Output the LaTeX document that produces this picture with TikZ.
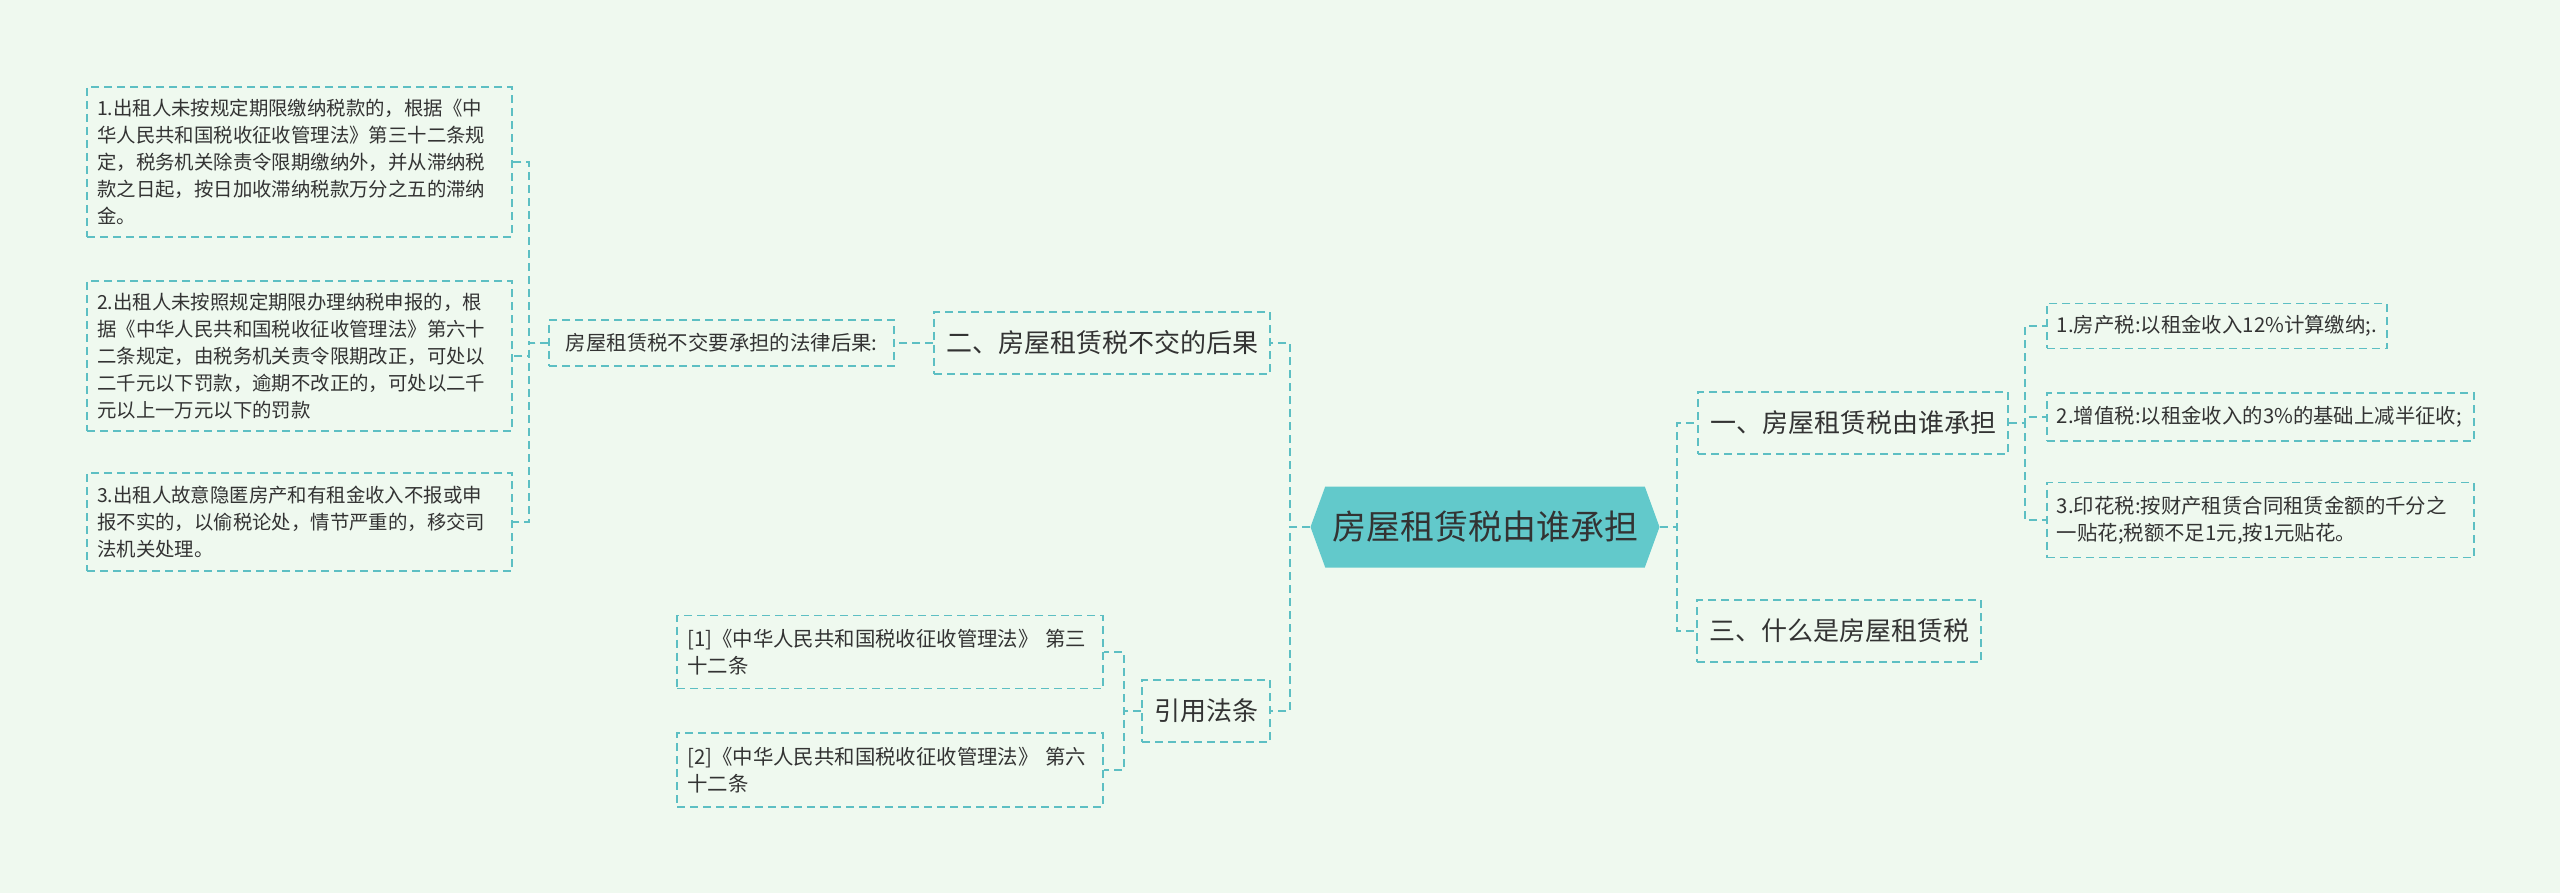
\documentclass[tikz,border=0pt]{standalone}
\usepackage{fontspec}
\setmainfont{Noto Sans CJK SC}
\usetikzlibrary{shapes.symbols}
\definecolor{bgcol}{HTML}{EFF9EF}
\definecolor{linecol}{HTML}{5DBFC3}
\definecolor{rootcol}{HTML}{62C9CB}
\definecolor{txtcol}{HTML}{333333}
\tikzset{
  link/.style={draw=linecol, line width=1pt, dash pattern=on 4pt off 2.5pt},
  box/.style={draw=linecol, line width=0.8pt, dash pattern=on 4pt off 2.5pt, text=txtcol, inner xsep=6pt, inner ysep=5pt},
  topic/.style={box, font=\fontsize{13}{15}\selectfont, minimum height=31pt},
  leaf/.style={box, font=\fontsize{9.7}{13.5}\selectfont, align=left, inner xsep=5pt},
  bigleaf/.style={leaf, font=\fontsize{10.2}{13.5}\selectfont},
  rootnode/.style={signal, signal to=west and east, signal pointer angle=140, fill=rootcol, text=txtcol,
    font=\fontsize{17}{20}\selectfont, minimum width=174.5pt, minimum height=40.5pt, inner sep=0pt}
}
\begin{document}
\begin{tikzpicture}[x=0.5pt,y=-0.5pt]
\fill[bgcol] (0,0) rectangle (2560,893);
\useasboundingbox (0,0) rectangle (2560,893);
% centre
\node[rootnode] (root) at (1485,527) {房屋租赁税由谁承担};
% first level
\node[topic] (yi) at (1853,423) {一、房屋租赁税由谁承担};
\node[topic] (san) at (1839,631) {三、什么是房屋租赁税};
\node[topic] (er) at (1102,343) {二、房屋租赁税不交的后果};
\node[topic] (yin) at (1206,711) {引用法条};
% right leaves
\node[bigleaf, anchor=west, minimum height=22.5pt, minimum width=169pt] (r1) at (2046,326) {1.房产税:以租金收入12\%计算缴纳;.};
\node[bigleaf, anchor=west, text width=203.5pt, minimum height=24pt] (r2) at (2046,417) {2.增值税:以租金收入的3\%的基础上减半征收;};
\node[bigleaf, anchor=west, text width=203.5pt, minimum height=37.5pt] (r3) at (2046,520) {3.印花税:按财产租赁合同租赁金额的千分之\\一贴花;税额不足1元,按1元贴花。};
% left side
\node[bigleaf, anchor=east, minimum height=23pt, minimum width=172.5pt] (law) at (895,343) {房屋租赁税不交要承担的法律后果:};
\node[leaf, anchor=east, text width=202.5pt, minimum height=75pt] (l1) at (513,162) {1.出租人未按规定期限缴纳税款的，根据《中\\华人民共和国税收征收管理法》第三十二条规\\定，税务机关除责令限期缴纳外，并从滞纳税\\款之日起，按日加收滞纳税款万分之五的滞纳\\金。};
\node[leaf, anchor=east, text width=202.5pt, minimum height=75pt] (l2) at (513,356) {2.出租人未按照规定期限办理纳税申报的，根\\据《中华人民共和国税收征收管理法》第六十\\二条规定，由税务机关责令限期改正，可处以\\二千元以下罚款，逾期不改正的，可处以二千\\元以上一万元以下的罚款};
\node[leaf, anchor=east, text width=202.5pt, minimum height=49pt] (l3) at (513,522) {3.出租人故意隐匿房产和有租金收入不报或申\\报不实的，以偷税论处，情节严重的，移交司\\法机关处理。};
% references
\node[bigleaf, anchor=east, text width=203pt, minimum height=36.5pt] (ref1) at (1104,652) {[1]《中华人民共和国税收征收管理法》 第三\\十二条};
\node[bigleaf, anchor=east, text width=203pt, minimum height=37pt] (ref2) at (1104,770) {[2]《中华人民共和国税收征收管理法》 第六\\十二条};
% connectors
\draw[link] (root.west) -- ++(-20,0) |- (er.east);
\draw[link] (root.west) -- ++(-20,0) |- (yin.east);
\draw[link] (root.east) -- ++(17,0) |- (yi.west);
\draw[link] (root.east) -- ++(17,0) |- (san.west);
\draw[link] (yi.east) -- ++(16,0) |- (r1.west);
\draw[link] (yi.east) -- ++(16,0) |- (r2.west);
\draw[link] (yi.east) -- ++(16,0) |- (r3.west);
\draw[link] (er.west) -- (law.east);
\draw[link] (law.west) -- ++(-19,0) |- (l1.east);
\draw[link] (law.west) -- ++(-19,0) |- (l2.east);
\draw[link] (law.west) -- ++(-19,0) |- (l3.east);
\draw[link] (yin.west) -- ++(-17,0) |- (ref1.east);
\draw[link] (yin.west) -- ++(-17,0) |- (ref2.east);
\end{tikzpicture}
\end{document}
